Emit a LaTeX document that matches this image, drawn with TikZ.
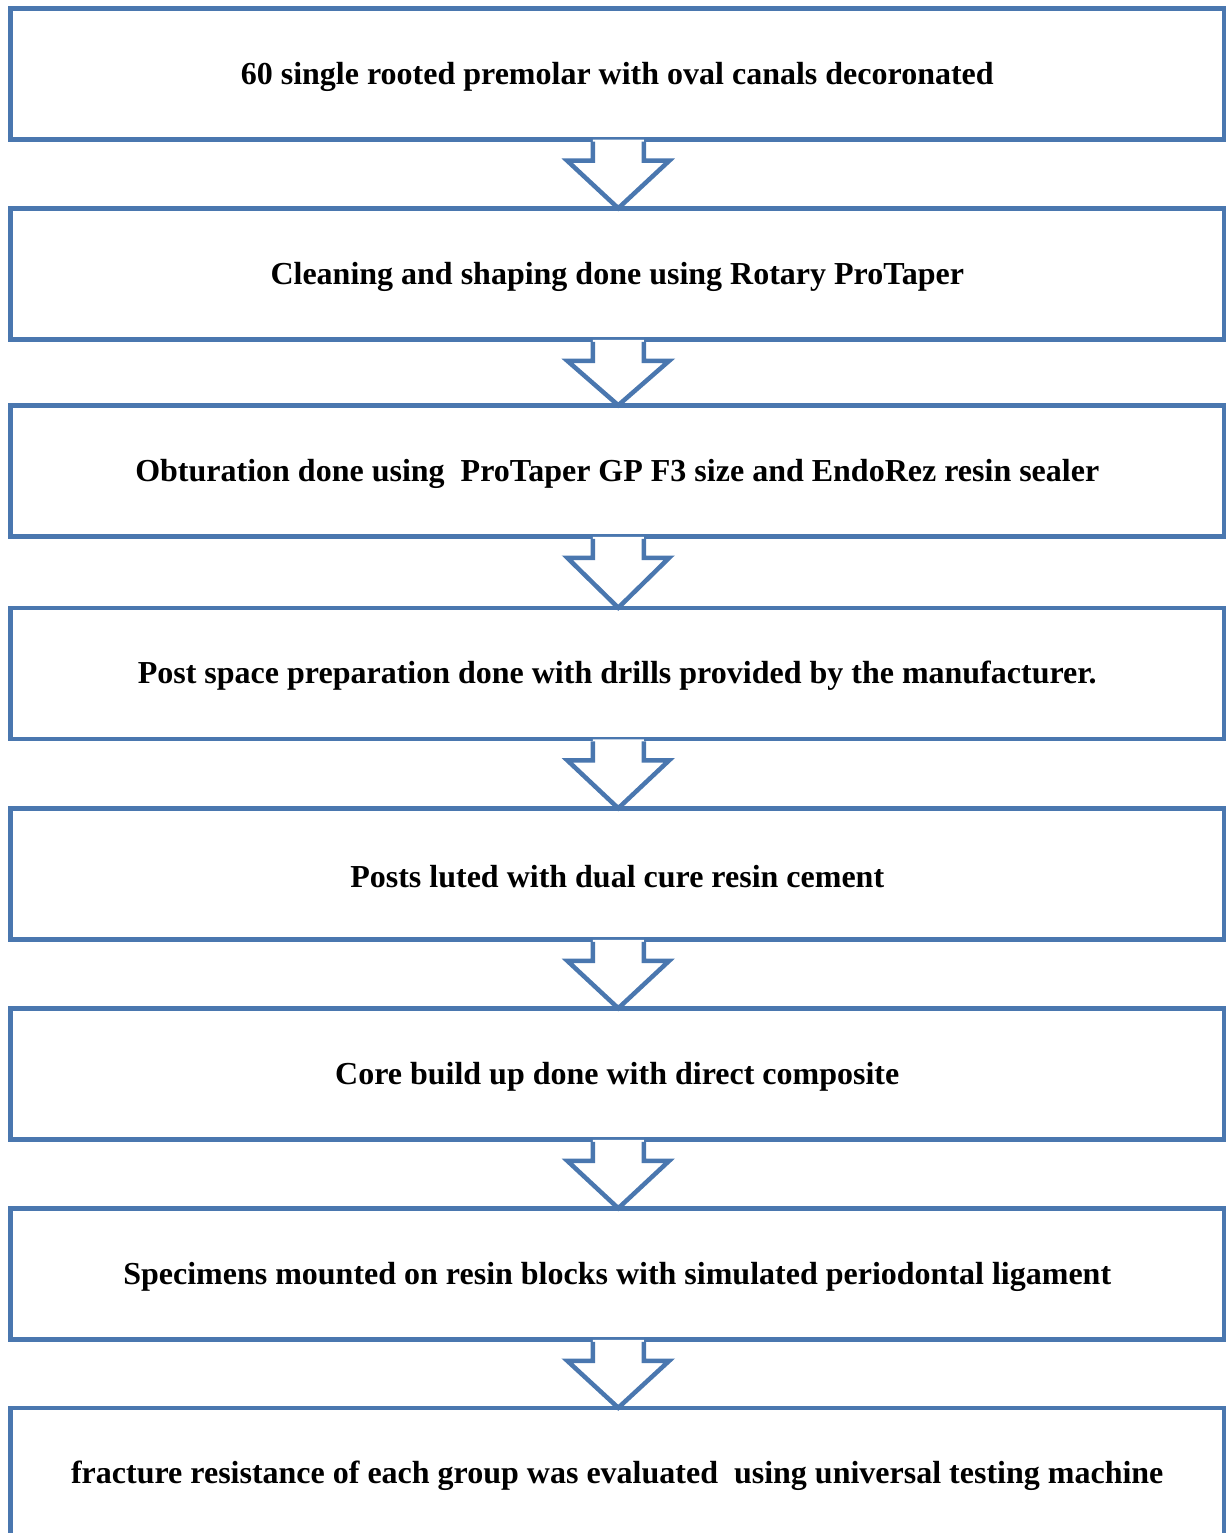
\documentclass[tikz,border=0pt]{standalone}
\usepackage{fontspec}
\setmainfont{Liberation Serif}
\usetikzlibrary{calc}
\definecolor{flowblue}{RGB}{74,119,175}
\tikzset{
  stepbox/.style={draw=flowblue, line width=4.5pt, fill=white, rectangle,
    minimum width=1213.5pt, minimum height=131pt, inner sep=0pt,
    font=\fontsize{32}{38}\selectfont\bfseries, text=black},
  flowarrow/.style={draw=flowblue, line width=4.5pt, line join=miter},
}
\newcommand\steptext[1]{\raisebox{-2.5pt}[\height][\depth]{#1}}
\newcommand\blockarrow[2]{%
  \fill[white] ($(#1.south)+(-24.5,-2)$) -- ($(#1.south)+(-24.5,19)$) -- ($(#1.south)+(-50,19)$)
     -- ($(#2.north)+(1,2)$) -- ($(#1.south)+(52,19)$) -- ($(#1.south)+(26.5,19)$) -- ($(#1.south)+(26.5,-2)$) -- cycle;
  \draw[flowarrow] ($(#1.south)+(-24.5,0)$) -- ($(#1.south)+(-24.5,19)$) -- ($(#1.south)+(-50,19)$)
     -- ($(#2.north)+(1,2)$) -- ($(#1.south)+(52,19)$) -- ($(#1.south)+(26.5,19)$) -- ($(#1.south)+(26.5,0)$);
}
\begin{document}
\begin{tikzpicture}[x=1pt,y=-1pt]
\useasboundingbox (0,0) rectangle (1227,1533);
\node[stepbox] (b1) at (617.25,74) {\steptext{60 single rooted premolar with oval canals decoronated}};
\node[stepbox] (b2) at (617.25,274) {\steptext{Cleaning and shaping done using Rotary ProTaper}};
\node[stepbox] (b3) at (617.25,471) {\steptext{Obturation done using\ \ ProTaper GP F3 size and EndoRez resin sealer}};
\node[stepbox] (b4) at (617.25,673.5) {\steptext{Post space preparation done with drills provided by the manufacturer.}};
\node[stepbox] (b5) at (617.25,874) {\steptext{Posts luted with dual cure resin cement}};
\node[stepbox] (b6) at (617.25,1074) {\steptext{Core build up done with direct composite}};
\node[stepbox] (b7) at (617.25,1274) {\steptext{Specimens mounted on resin blocks with simulated periodontal ligament}};
\node[stepbox] (b8) at (617.25,1473.5) {\steptext{fracture resistance of each group was evaluated\ \ using universal testing machine}};
\blockarrow{b1}{b2}
\blockarrow{b2}{b3}
\blockarrow{b3}{b4}
\blockarrow{b4}{b5}
\blockarrow{b5}{b6}
\blockarrow{b6}{b7}
\blockarrow{b7}{b8}
\end{tikzpicture}
\end{document}
